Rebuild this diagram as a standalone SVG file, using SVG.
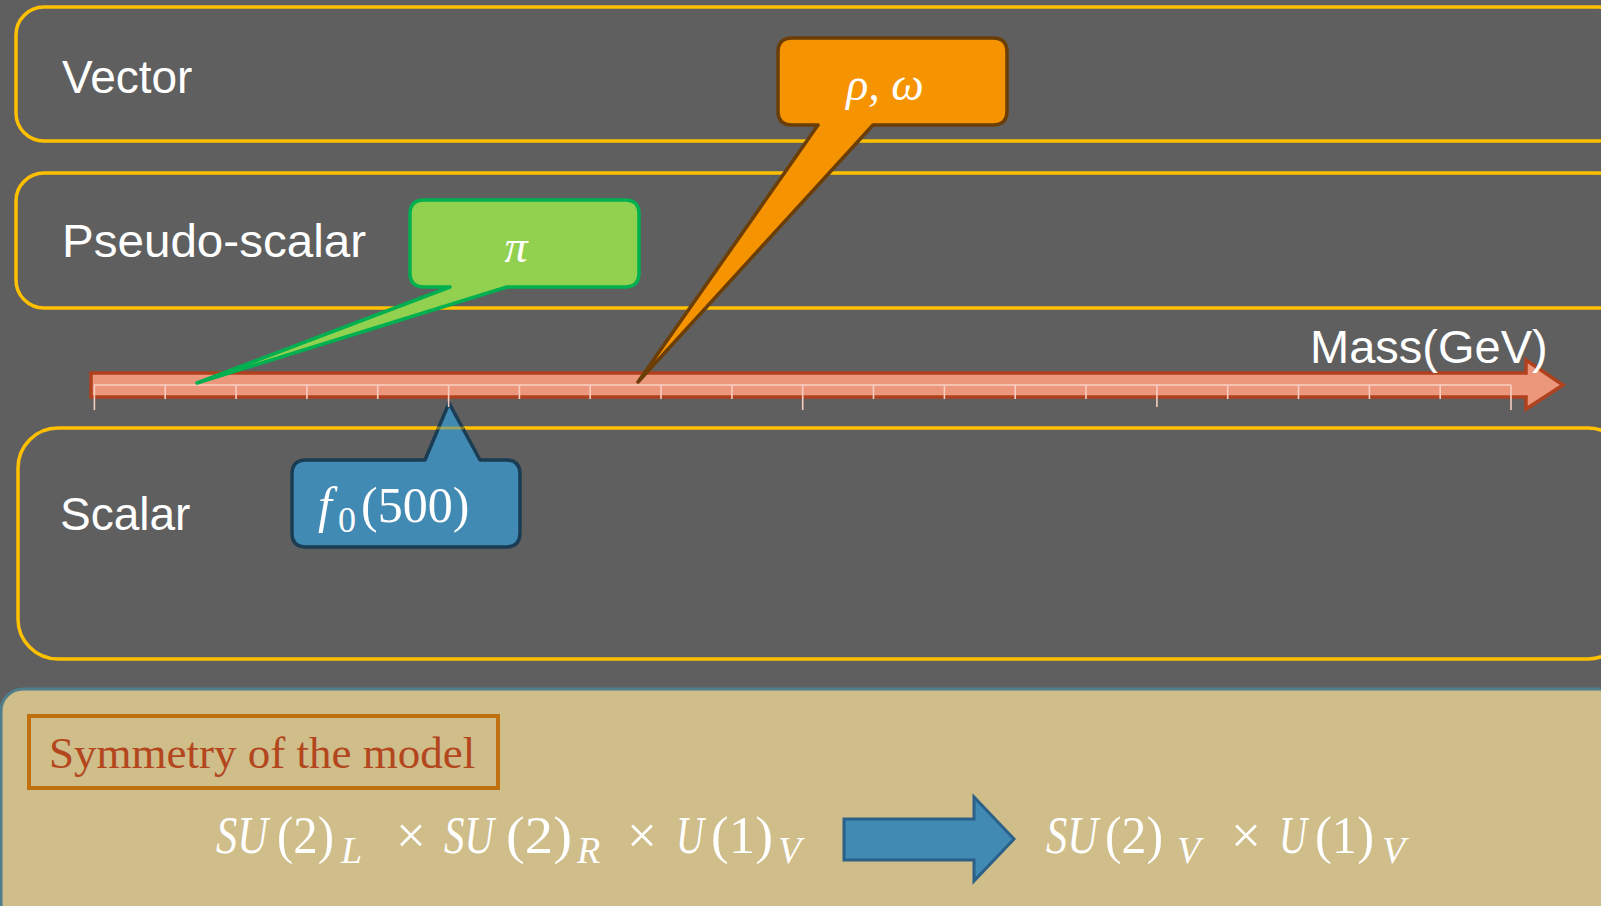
<svg xmlns="http://www.w3.org/2000/svg" width="1601" height="906" viewBox="0 0 1601 906">
<style>
.cat{fill:none;stroke:#FFC000;stroke-width:3.5}
.lbl{font-family:"Liberation Sans",Arial,sans-serif;font-size:46px;fill:#FFFFFF}
.m{font-family:"Liberation Serif","Times New Roman",serif;fill:#FFFFFF}
.it{font-style:italic}
.tk{stroke:#F6CDBF;stroke-width:1.6}
</style>
<rect x="0" y="0" width="1601" height="906" fill="#5F5F5F"/>

<g id="vector-box">
<rect class="cat" x="16" y="7" width="1610" height="134" rx="28"/>
<text class="lbl" x="62" y="93">Vector</text>
</g>
<g id="pseudoscalar-box">
<rect class="cat" x="16" y="173" width="1610" height="135" rx="28"/>
<text class="lbl" x="62" y="257" textLength="304" lengthAdjust="spacingAndGlyphs">Pseudo-scalar</text>
</g>
<g id="scalar-box">
<rect class="cat" x="18" y="428" width="1610" height="231" rx="40"/>
<text class="lbl" x="60" y="530">Scalar</text>
</g>

<g id="f0-callout">
<path d="M306,460 H425 L449,403 L480,460 H506 Q520,460 520,474 V533 Q520,547 506,547 H306 Q292,547 292,533 V474 Q292,460 306,460 Z" fill="#418AB3" stroke="#1B3D54" stroke-width="3.5" stroke-linejoin="round"/>
<line x1="434" y1="428" x2="464" y2="428" stroke="#FFC000" stroke-width="3" stroke-opacity="0.45"/>
<text class="m" y="522"><tspan class="it" x="318" font-size="50">f</tspan><tspan x="338" y="532" font-size="36">0</tspan><tspan x="361" y="522" font-size="50">(500)</tspan></text>
</g>

<g id="mass-axis">
<path d="M91,373 H1526 V360 L1563,385 L1526,409 V397 H91 Z" fill="#EC977C" stroke="#B0411E" stroke-width="3.5" stroke-linejoin="miter"/>
<line x1="94" y1="385" x2="1511" y2="385" stroke="#F6C3B2" stroke-width="2"/>
<g>
<line class="tk" x1="94.4" y1="385" x2="94.4" y2="410"/>
<line class="tk" x1="165.2" y1="385" x2="165.2" y2="399"/>
<line class="tk" x1="236.1" y1="385" x2="236.1" y2="399"/>
<line class="tk" x1="306.9" y1="385" x2="306.9" y2="399"/>
<line class="tk" x1="377.7" y1="385" x2="377.7" y2="399"/>
<line class="tk" x1="448.6" y1="385" x2="448.6" y2="407"/>
<line class="tk" x1="519.4" y1="385" x2="519.4" y2="399"/>
<line class="tk" x1="590.2" y1="385" x2="590.2" y2="399"/>
<line class="tk" x1="661.0" y1="385" x2="661.0" y2="399"/>
<line class="tk" x1="731.9" y1="385" x2="731.9" y2="399"/>
<line class="tk" x1="802.7" y1="385" x2="802.7" y2="410"/>
<line class="tk" x1="873.5" y1="385" x2="873.5" y2="399"/>
<line class="tk" x1="944.4" y1="385" x2="944.4" y2="399"/>
<line class="tk" x1="1015.2" y1="385" x2="1015.2" y2="399"/>
<line class="tk" x1="1086.0" y1="385" x2="1086.0" y2="399"/>
<line class="tk" x1="1156.9" y1="385" x2="1156.9" y2="407"/>
<line class="tk" x1="1227.7" y1="385" x2="1227.7" y2="399"/>
<line class="tk" x1="1298.5" y1="385" x2="1298.5" y2="399"/>
<line class="tk" x1="1369.4" y1="385" x2="1369.4" y2="399"/>
<line class="tk" x1="1440.2" y1="385" x2="1440.2" y2="399"/>
<line class="tk" x1="1511.0" y1="385" x2="1511.0" y2="410"/>
</g>
<text class="lbl" x="1310" y="363" style="font-size:47px">Mass(GeV)</text>
</g>

<g id="pi-callout">
<path d="M424,200 H625 Q639,200 639,214 V273 Q639,287 625,287 H507 L197,383 L450,287 H424 Q410,287 410,273 V214 Q410,200 424,200 Z" fill="#92D050" stroke="#00B050" stroke-width="3.5" stroke-linejoin="round"/>
<text class="m it" x="516" y="262" font-size="46" text-anchor="middle">π</text>
</g>

<g id="rho-omega-callout">
<path d="M792,38 H993 Q1007,38 1007,52 V111 Q1007,125 993,125 H873 L638,382 L818,125 H792 Q778,125 778,111 V52 Q778,38 792,38 Z" fill="#F59300" stroke="#6B3E07" stroke-width="3.5" stroke-linejoin="round"/>
<text class="m it" x="885" y="100" font-size="46" text-anchor="middle">ρ, ω</text>
</g>

<g id="symmetry-panel">
<rect x="1" y="689" width="1660" height="260" rx="22" fill="#CFBD8A" stroke="#4F7F8C" stroke-width="3"/>
<rect x="29" y="716" width="469" height="72" fill="none" stroke="#C0700F" stroke-width="4"/>
<text x="49" y="768" font-family="Liberation Serif, Times New Roman, serif" font-size="45" fill="#B3461C">Symmetry of the model</text>
</g>

<g id="symmetry-before">
<text class="m it" x="216" y="853" font-size="53" textLength="52" lengthAdjust="spacingAndGlyphs">SU</text>
<text class="m" x="277" y="853" font-size="53" textLength="57" lengthAdjust="spacingAndGlyphs">(2)</text>
<text class="m it" x="341" y="863" font-size="38">L</text>
<text class="m" x="396" y="853" font-size="53">×</text>
<text class="m it" x="444" y="853" font-size="53" textLength="50" lengthAdjust="spacingAndGlyphs">SU</text>
<text class="m" x="506" y="853" font-size="53" textLength="66" lengthAdjust="spacingAndGlyphs">(2)</text>
<text class="m it" x="577" y="863" font-size="38">R</text>
<text class="m" x="627" y="853" font-size="53">×</text>
<text class="m it" x="676" y="853" font-size="53" textLength="28" lengthAdjust="spacingAndGlyphs">U</text>
<text class="m" x="711" y="853" font-size="53" textLength="62" lengthAdjust="spacingAndGlyphs">(1)</text>
<text class="m it" x="778" y="863" font-size="38">V</text>
</g>

<g id="connectors">
<path d="M844,819 H974 V797 L1014,839 L974,881 V860 H844 Z" fill="#418AB3" stroke="#2B6188" stroke-width="3"/>
</g>

<g id="symmetry-after">
<text class="m it" x="1046" y="853" font-size="53" textLength="52" lengthAdjust="spacingAndGlyphs">SU</text>
<text class="m" x="1105" y="853" font-size="53" textLength="58" lengthAdjust="spacingAndGlyphs">(2)</text>
<text class="m it" x="1177" y="863" font-size="38">V</text>
<text class="m" x="1231" y="853" font-size="53">×</text>
<text class="m it" x="1279" y="853" font-size="53" textLength="28" lengthAdjust="spacingAndGlyphs">U</text>
<text class="m" x="1315" y="853" font-size="53" textLength="59" lengthAdjust="spacingAndGlyphs">(1)</text>
<text class="m it" x="1382" y="863" font-size="38">V</text>
</g>
</svg>
